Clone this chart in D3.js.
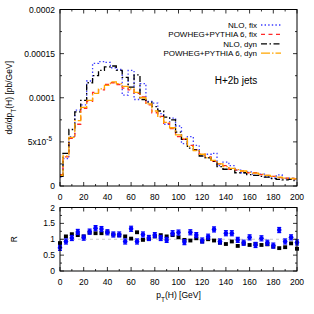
<!DOCTYPE html>
<html>
<head>
<meta charset="utf-8">
<title>H+2b jets</title>
<script src="https://cdn.jsdelivr.net/npm/d3@7"></script>
<style>
  body { margin: 0; background: #fff; }
  text { font-family: "Liberation Sans", Arial, sans-serif; fill: #000; }
</style>
</head>
<body>
<div id="chart"></div>
<script>
// pT(H) points, 5 GeV apart
var ptH = d3.range(0, 201, 5);

// dsigma/dpT in units of 1e-5 pb/GeV
var nloFix = [1.0, 3.1, 5.6, 8.6, 9.2, 11.9, 13.9, 14.1, 14.0, 13.4, 13.2, 10.3, 13.1, 9.8, 11.6, 9.6, 9.4, 8.2, 7.0, 7.7,
              6.8, 4.8, 5.6, 4.6, 3.5, 3.6, 3.7, 2.3, 2.7, 2.3, 1.8, 1.5, 1.6, 1.2, 1.35, 1.05, 0.9, 1.25, 0.85, 0.9, 0.72];
var powFix = [1.3, 3.3, 5.4, 7.0, 8.8, 9.6, 10.6, 10.9, 11.5, 11.7, 11.5, 11.1, 10.9, 10.5, 10.1, 9.2, 8.3, 7.9, 7.1, 6.5,
              5.6, 5.3, 4.6, 4.1, 3.6, 3.3, 2.8, 2.5, 2.3, 1.9, 1.8, 1.7, 1.5, 1.5, 1.3, 1.2, 1.1, 0.95, 0.9, 0.85, 0.8];
var nloDyn = [1.1, 3.7, 6.4, 8.4, 9.7, 11.7, 12.5, 13.1, 13.5, 13.6, 13.1, 12.3, 11.2, 12.6, 9.8, 9.5, 9.0, 8.5, 7.8, 7.5,
              6.1, 5.3, 4.3, 4.1, 3.4, 3.2, 2.8, 2.2, 1.9, 1.9, 1.5, 1.5, 1.3, 1.2, 1.1, 1.0, 0.85, 0.75, 0.7, 0.74, 0.6];
var powDyn = [1.2, 3.4, 5.5, 7.4, 8.9, 9.7, 10.5, 11.0, 11.4, 11.8, 11.6, 11.3, 11.0, 10.6, 10.0, 9.3, 8.5, 7.8, 7.2, 6.6,
              5.8, 5.4, 4.5, 4.0, 3.6, 3.2, 2.9, 2.5, 2.2, 2.0, 1.85, 1.7, 1.55, 1.45, 1.35, 1.2, 1.1, 1.0, 0.9, 0.85, 0.8];

// ratio R = NLO / POWHEG
var ratioFix = [0.73, 0.93, 1.04, 1.23, 1.05, 1.24, 1.35, 1.32, 1.22, 1.15, 1.15, 0.93, 1.33, 0.93, 1.15, 1.04, 1.13, 1.04, 0.98, 1.19,
                1.21, 0.91, 1.22, 1.13, 0.96, 1.08, 1.31, 0.93, 1.19, 1.19, 0.98, 0.89, 1.06, 0.82, 1.03, 0.89, 0.80, 1.29, 0.93, 1.06, 0.90];
var ratioDyn = [0.88, 1.09, 1.16, 1.13, 1.09, 1.21, 1.19, 1.19, 1.22, 1.15, 1.13, 1.09, 1.02, 1.22, 0.98, 1.02, 1.09, 1.13, 1.09, 1.13,
                1.06, 0.98, 0.96, 1.03, 0.93, 1.00, 0.96, 0.89, 0.85, 0.93, 0.79, 0.87, 0.82, 0.85, 0.82, 0.84, 0.77, 0.72, 0.75, 0.87, 0.70];
var errFix = 0.08, errDyn = 0.06;

var xTicks = [0, 20, 40, 60, 80, 100, 120, 140, 160, 180, 200];
var yTicks = [0, 5e-5, 1e-4, 1.5e-4, 2e-4];
var yTickLabels = ["0", "5x10^-5", "0.0001", "0.00015", "0.0002"];
var rTicks = [0, 0.5, 1, 1.5, 2];
var rTickLabels = ["0", "0.5", "1", "1.5", "2"];

var seriesNames = ["NLO, fix", "POWHEG+PYTHIA 6, fix", "NLO, dyn", "POWHEG+PYTHIA 6, dyn"];
var seriesValues = [nloFix, powFix, nloDyn, powDyn];
var seriesColors = ["#3b3bff", "#ff2a2a", "#000000", "#ffa500"];
var seriesDash = ["1.4,2.2", "4,3.5", "6,2.5,1.5,2.5", "9,2,1.5,2"];

var width = 314, height = 314;
var left = 60, right = 297;
var mainTop = 9.5, mainBottom = 186;
var ratTop = 207.5, ratBottom = 271;

var svg = d3.select("#chart").append("svg")
  .attr("width", width).attr("height", height);

var x = d3.scaleLinear().domain([0, 200]).range([left, right]);
var y = d3.scaleLinear().domain([0, 2e-4]).range([mainBottom, mainTop]);
var r = d3.scaleLinear().domain([0, 2]).range([ratBottom, ratTop]);

// inward ticks on all four sides, gnuplot style
function frame(ys, top, bottom, majorY, minorY) {
  var g = svg.append("g");
  var xMinor = d3.range(10, 200, 20);
  function tick(x1, y1, x2, y2) {
    g.append("line").attr("x1", x1).attr("y1", y1).attr("x2", x2).attr("y2", y2)
      .attr("stroke", "#000").attr("stroke-width", 0.8);
  }
  xTicks.forEach(function(t) { tick(x(t), bottom, x(t), bottom - 4); tick(x(t), top, x(t), top + 4); });
  xMinor.forEach(function(t) { tick(x(t), bottom, x(t), bottom - 2); tick(x(t), top, x(t), top + 2); });
  majorY.forEach(function(t) { tick(left, ys(t), left + 4, ys(t)); tick(right, ys(t), right - 4, ys(t)); });
  minorY.forEach(function(t) { tick(left, ys(t), left + 2, ys(t)); tick(right, ys(t), right - 2, ys(t)); });
  g.append("rect").attr("x", left).attr("y", top).attr("width", right - left).attr("height", bottom - top)
    .attr("fill", "none").attr("stroke", "#000").attr("stroke-width", 1);
  g.selectAll("text.xl").data(xTicks).enter().append("text")
    .attr("x", function(d) { return x(d); }).attr("y", bottom + 14)
    .attr("text-anchor", "middle").attr("font-size", 8.5).text(function(d) { return d; });
}

// main panel
var histLine = d3.line()
  .x(function(d, i) { return x(ptH[i]); })
  .y(function(d) { return y(d * 1e-5); })
  .curve(d3.curveStep);

var clip = svg.append("clipPath").attr("id", "mainclip").append("rect")
  .attr("x", left).attr("y", mainTop).attr("width", right - left).attr("height", mainBottom - mainTop);

svg.append("g").attr("clip-path", "url(#mainclip)")
  .selectAll("path").data(seriesValues).enter().append("path")
  .attr("d", histLine)
  .attr("fill", "none")
  .attr("stroke", function(d, i) { return seriesColors[i]; })
  .attr("stroke-width", 1.3)
  .attr("stroke-dasharray", function(d, i) { return seriesDash[i]; });

frame(y, mainTop, mainBottom, yTicks, [2.5e-5, 7.5e-5, 1.25e-4, 1.75e-4]);

var yl = svg.append("g").selectAll("text").data(yTicks).enter().append("text")
  .attr("x", 55).attr("y", function(d) { return y(d) + 3; })
  .attr("text-anchor", "end").attr("font-size", 8.5);
yl.each(function(d, i) {
  var s = yTickLabels[i];
  var t = d3.select(this);
  if (s.indexOf("^") > 0) {
    var p = s.split("^");
    t.attr("x", 52);
    t.append("tspan").text(p[0]);
    t.append("tspan").attr("dy", -4).attr("font-size", 6.5).text(p[1]);
  } else {
    t.text(s);
  }
});

// legend
var leg = svg.append("g");
seriesNames.forEach(function(name, i) {
  var ly = 25 + i * 9.4;
  leg.append("text").attr("x", 257).attr("y", ly + 3).attr("text-anchor", "end")
    .attr("font-size", 8).text(name);
  leg.append("line").attr("x1", 261).attr("x2", 281).attr("y1", ly).attr("y2", ly)
    .attr("stroke", seriesColors[i]).attr("stroke-width", 1.3)
    .attr("stroke-dasharray", seriesDash[i]);
});

svg.append("text").attr("x", 236).attr("y", 84).attr("text-anchor", "middle")
  .attr("font-size", 10).text("H+2b jets");

// y label main
svg.append("text")
  .attr("transform", "translate(12," + ((mainTop + mainBottom) / 2) + ") rotate(-90)")
  .attr("text-anchor", "middle").attr("font-size", 8.5)
  .html('dσ/dp<tspan baseline-shift="sub" font-size="6.5">T</tspan>(H) [pb/GeV]');

// ratio panel
svg.append("line").attr("x1", left).attr("x2", right).attr("y1", r(1)).attr("y2", r(1))
  .attr("stroke", "#c8c8c8").attr("stroke-width", 1).attr("stroke-dasharray", "3,3");

var rd = svg.append("g");
ratioDyn.forEach(function(v, i) {
  rd.append("rect")
    .attr("x", x(ptH[i]) - 2).attr("y", r(v + errDyn))
    .attr("width", 4).attr("height", r(v - errDyn) - r(v + errDyn))
    .attr("fill", "#000");
});
var rf = svg.append("g");
ratioFix.forEach(function(v, i) {
  var cx = x(ptH[i]);
  rf.append("line").attr("x1", cx).attr("x2", cx).attr("y1", r(v - errFix)).attr("y2", r(v + errFix))
    .attr("stroke", "#0000ff").attr("stroke-width", 1.2);
  [v - errFix, v + errFix].forEach(function(e) {
    rf.append("line").attr("x1", cx - 2).attr("x2", cx + 2).attr("y1", r(e)).attr("y2", r(e))
      .attr("stroke", "#0000ff").attr("stroke-width", 1.2);
  });
  rf.append("circle").attr("cx", cx).attr("cy", r(v)).attr("r", 2.3).attr("fill", "#0000ff");
});

frame(r, ratTop, ratBottom, rTicks, [0.25, 0.75, 1.25, 1.75]);

svg.append("g").selectAll("text").data(rTicks).enter().append("text")
  .attr("x", 55).attr("y", function(d) { return r(d) + 3; })
  .attr("text-anchor", "end").attr("font-size", 8.5)
  .text(function(d, i) { return rTickLabels[i]; });

svg.append("text")
  .attr("transform", "translate(17," + ((ratTop + ratBottom) / 2) + ") rotate(-90)")
  .attr("text-anchor", "middle").attr("font-size", 8.5).text("R");

svg.append("text").attr("x", (left + right) / 2).attr("y", 298)
  .attr("text-anchor", "middle").attr("font-size", 8.5)
  .html('p<tspan baseline-shift="sub" font-size="6.5">T</tspan>(H) [GeV]');
</script>
</body>
</html>
